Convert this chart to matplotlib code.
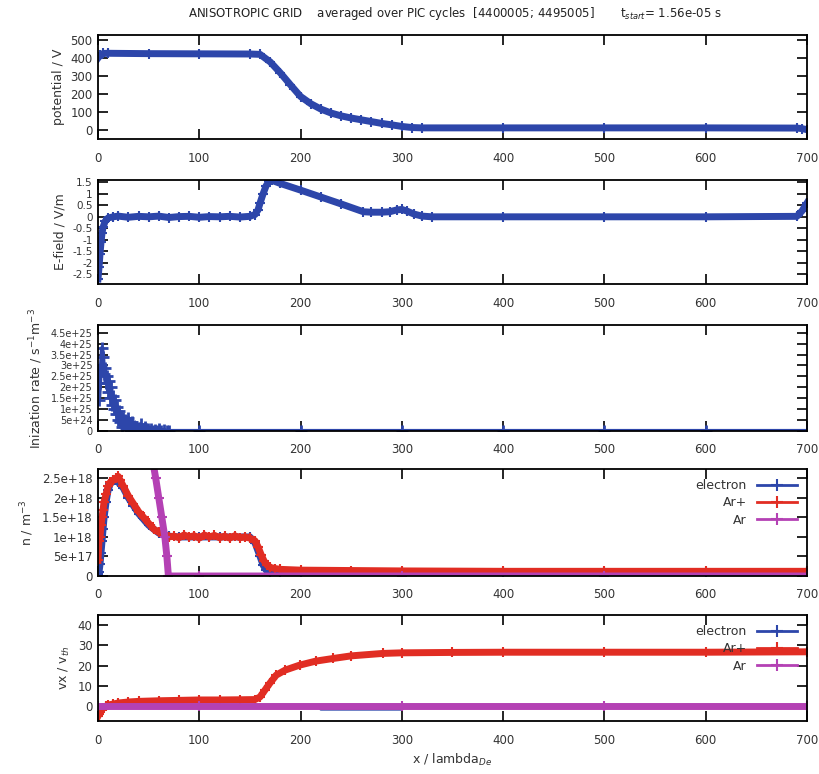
import matplotlib
matplotlib.use("Agg")
import matplotlib.pyplot as plt
from matplotlib.lines import Line2D

BLUE = "#2d46aa"
RED = "#e12d23"
MAGENTA = "#b441b4"

# potential / V
pot_x = [0, 2, 5, 10, 50, 100, 150, 160, 170, 180, 190, 200, 210, 220, 230, 240,
         250, 260, 270, 280, 290, 300, 310, 320, 400, 500, 600, 690, 695, 700]
pot_v = [400, 415, 425, 426, 424, 423, 422, 420, 378, 317, 250, 185, 145, 115, 93, 77,
         65, 55, 45, 35, 27, 18, 12, 10, 10, 10, 10, 9, 6, 0]

# E-field / V/m
ef_x = [0, 1, 2, 3, 4, 5, 7, 10, 15, 20, 30, 40, 50, 60, 70, 80, 90, 100, 110, 120,
        130, 140, 150, 155, 158, 160, 163, 166, 169, 172, 180, 200, 220, 240, 262,
        270, 280, 288, 295, 300, 305, 312, 320, 330, 400, 500, 600, 690, 695, 700]
ef_v = [-2.7, -2.2, -1.6, -1.1, -0.7, -0.45, -0.2, -0.05, 0.0, 0.03, -0.02, 0.02, 0.0,
        0.03, -0.03, 0.01, 0.02, -0.02, 0.01, 0.0, 0.02, -0.01, 0.02, 0.1, 0.3, 0.6,
        1.0, 1.35, 1.55, 1.58, 1.45, 1.16, 0.86, 0.56, 0.22, 0.2, 0.2, 0.22, 0.3,
        0.32, 0.25, 0.12, 0.03, 0.0, 0.0, 0.0, 0.0, 0.02, 0.25, 0.6]

# ionization rate, units of 1e25 s^-1 m^-3
ion_x = list(range(0, 51)) + [52, 54, 56, 58, 60, 62, 65, 68, 70, 100, 200, 300,
                               400, 500, 600, 700]
ion_v = [2.7, 1.4, 2.2, 3.0, 3.8, 3.4, 2.6, 2.9, 2.2, 2.5, 1.8, 2.3, 1.5, 2.0, 1.2,
         1.6, 1.0, 1.4, 0.8, 1.1, 0.5, 0.9, 0.4, 0.7, 0.2, 0.6, 0.3, 0.5, 0.1, 0.4,
         0.6, 0.2, 0.35, 0.05, 0.4, 0.15, 0.25, 0.0, 0.2, 0.1, 0.15, 0.05, 0.3, 0.0,
         0.1, 0.05, 0.2, 0.0, 0.05, 0.1, 0.0, 0.1, 0.0, 0.05, 0.0, 0.1, 0.0, 0.05,
         0.0, 0.0, 0.0, 0.0, 0.0, 0.0, 0.0, 0.0, 0.0]

# densities, units of 1e18 m^-3
ne_x = [0, 1, 2, 3, 4, 5, 6, 8, 10, 12, 15, 18, 20, 25, 30, 35, 40, 45, 50, 55, 60,
        65, 70, 80, 100, 120, 150, 155, 160, 163, 166, 170, 180, 200, 300, 400, 500,
        600, 700]
ne_v = [0.05, 0.1, 0.3, 0.6, 0.9, 1.2, 1.5, 1.9, 2.2, 2.35, 2.45, 2.45, 2.4, 2.25,
        2.0, 1.8, 1.6, 1.45, 1.3, 1.2, 1.1, 1.05, 1.02, 1.0, 1.0, 1.0, 1.0, 0.85,
        0.5, 0.28, 0.15, 0.1, 0.09, 0.1, 0.1, 0.1, 0.11, 0.1, 0.1]
ni_x = [0, 1, 2, 3, 4, 5, 6, 8, 10, 12, 15, 18, 20, 22, 25, 30, 35, 40, 45, 50, 55,
        60, 65, 70, 75, 80, 85, 90, 95, 100, 105, 110, 115, 120, 125, 130, 135, 140,
        145, 150, 155, 158, 161, 164, 167, 170, 175, 180, 200, 250, 300, 400, 500,
        600, 700]
ni_v = [0.4, 0.9, 1.0, 1.3, 1.5, 1.7, 1.9, 2.1, 2.3, 2.4, 2.45, 2.5, 2.55, 2.45, 2.3,
        2.05, 1.85, 1.65, 1.5, 1.35, 1.2, 1.12, 1.05, 1.0, 1.02, 0.98, 1.05, 1.0,
        1.03, 0.97, 1.05, 1.0, 1.04, 0.98, 1.02, 0.97, 1.03, 0.98, 1.0, 0.97, 0.9,
        0.75, 0.55, 0.38, 0.28, 0.22, 0.19, 0.17, 0.15, 0.14, 0.13, 0.12, 0.12,
        0.12, 0.12]
nar_x = [45, 52, 55, 57, 60, 63, 66, 68, 69.5, 100, 300, 500, 700]
nar_v = [4.4, 3.3, 2.8, 2.5, 2.0, 1.5, 1.0, 0.5, 0.0, 0.0, 0.0, 0.0, 0.0]

# vx / v_th
vi_x = [0, 1, 2, 3, 5, 8, 10, 15, 20, 30, 40, 60, 80, 100, 120, 140, 155, 160, 165,
        170, 176, 185, 199, 215, 232, 250, 281, 300, 350, 400, 500, 600, 700]
vi_v = [-5, -4, -3, -2, -1, 0, 0.5, 1.0, 1.5, 2.0, 2.3, 2.6, 2.8, 3.0, 3.0, 3.1, 3.2,
        4.5, 8, 11.5, 15.3, 17.8, 20.2, 22.2, 23.5, 24.8, 26.0, 26.3, 26.5, 26.6,
        26.6, 26.6, 26.8]
ve_x = [0, 100, 218, 220, 300, 302, 400, 700]
ve_v = [0, 0, 0, -1.6, -1.6, 0, 0, 0]
va_x = [0, 100, 300, 500, 700]
va_v = [0, 0, 0, 0, 0]

W, H = 820, 774
fig = plt.figure(figsize=(8.2, 7.74), dpi=100)

# (top, bottom) of each panel in pixels
panels = [(35, 139), (180, 284), (325, 431), (469, 576), (615, 721)]
axes = []
for top, bot in panels:
    ax = fig.add_axes([98 / W, 1 - bot / H, 709 / W, (bot - top) / H])
    ax.set_xlim(0, 700)
    ax.set_xticks(range(0, 701, 100))
    ax.tick_params(direction="in", length=7, width=1.2, top=True, right=True,
                   labelsize=8.5, labelcolor="#333333", pad=9)
    ax.tick_params(axis="y", pad=4)
    for s in ax.spines.values():
        s.set_linewidth(1.3)
    axes.append(ax)

band = dict(lw=5, marker="+", ms=7, mew=1.5, solid_joinstyle="round")

ax = axes[0]
ax.plot(pot_x, pot_v, color=BLUE, **band)
ax.set_ylim(-52, 528)
ax.set_yticks([0, 100, 200, 300, 400, 500])
ax.set_ylabel("potential / V", fontsize=9, color="#333333")

ax = axes[1]
ax.plot(ef_x, ef_v, color=BLUE, **band)
ax.set_ylim(-2.92, 1.6)
ef_ticks = [1.5, 1, 0.5, 0, -0.5, -1, -1.5, -2, -2.5]
ax.set_yticks(ef_ticks)
ax.set_yticklabels(["1.5", "1", "0.5", "0", "-0.5", "-1", "-1.5", "-2", "-2.5"])
ax.tick_params(axis="y", labelsize=7.5)
ax.set_ylabel("E-field / V/m", fontsize=9, color="#333333")

ax = axes[2]
ax.plot(ion_x, ion_v, color=BLUE, lw=3, marker="+", ms=8, mew=2)
ax.set_ylim(0, 4.85)
ax.set_yticks([0, 0.5, 1, 1.5, 2, 2.5, 3, 3.5, 4, 4.5])
ax.set_yticklabels(["0", "5e+24", "1e+25", "1.5e+25", "2e+25", "2.5e+25", "3e+25",
                    "3.5e+25", "4e+25", "4.5e+25"])
ax.tick_params(axis="y", labelsize=7)
ax.set_ylabel("Inization rate / s$^{-1}$m$^{-3}$", fontsize=9, color="#333333")

ax = axes[3]
ax.plot(ne_x, ne_v, color=BLUE, **band)
ax.plot(ni_x, ni_v, color=RED, **band)
ax.plot(nar_x, nar_v, color=MAGENTA, **band)
ax.set_ylim(0, 2.74)
ax.set_yticks([0, 0.5, 1, 1.5, 2, 2.5])
ax.set_yticklabels(["0", "5e+17", "1e+18", "1.5e+18", "2e+18", "2.5e+18"])
ax.set_ylabel("n / m$^{-3}$", fontsize=9, color="#333333")

ax = axes[4]
ax.plot(ve_x, ve_v, color=BLUE, lw=2)
ax.plot(vi_x, vi_v, color=RED, **band)
ax.plot(va_x, va_v, color=MAGENTA, **band)
ax.set_ylim(-7.4, 45)
ax.set_yticks([0, 10, 20, 30, 40])
ax.set_ylabel("vx / v$_{th}$", fontsize=9, color="#333333")
ax.set_xlabel("x / lambda$_{De}$", fontsize=9, color="#333333")

handles = [Line2D([], [], color=c, lw=2, marker="+", ms=9, mew=1.5)
           for c in (BLUE, RED, MAGENTA)]
for ax in axes[3:]:
    ax.legend(handles, ["electron", "Ar+", "Ar"], loc="upper right", frameon=False,
              markerfirst=False, handlelength=3.2, fontsize=9, labelspacing=0.35,
              borderaxespad=0.4, labelcolor="#333333")

fig.text(455 / W, 1 - 13 / H,
         "ANISOTROPIC GRID    averaged over PIC cycles  [4400005; 4495005]"
         "       t$_{start}$= 1.56e-05 s",
         ha="center", va="center", fontsize=8.5, color="#222222")

fig.savefig("out.png", dpi=100)
